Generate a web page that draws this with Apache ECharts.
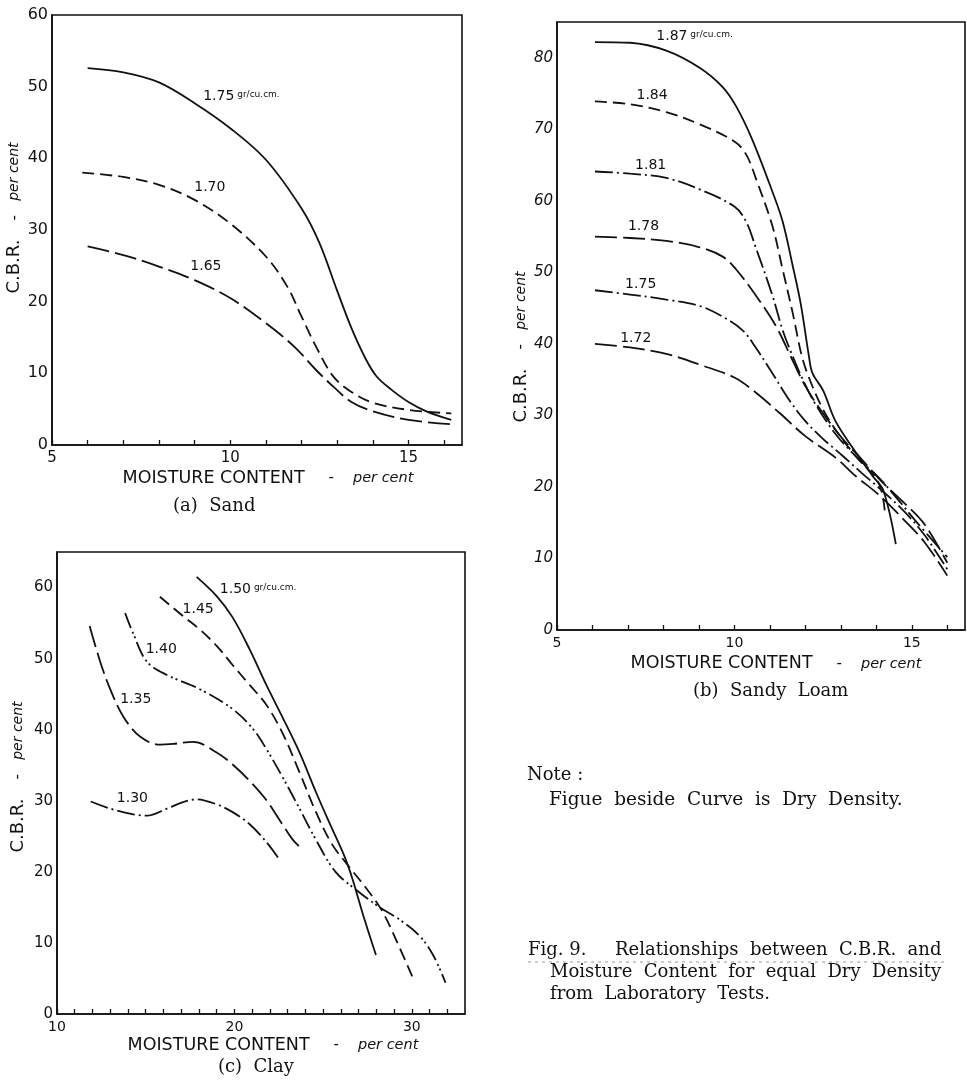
<!DOCTYPE html>
<html>
<head>
<meta charset="utf-8">
<script src="https://cdn.jsdelivr.net/npm/echarts@6/dist/echarts.min.js"></script>
<style>
html,body{margin:0;padding:0;background:#fff;}
#chart{width:967px;height:1082px;}
</style>
</head>
<body>
<div id="chart"></div>
<script>
// ---------- DATA ----------
// (a) Sand : moisture content (%) vs C.B.R. (%)
const sandX175 = [6, 7, 8, 9, 10, 11, 12, 12.5, 13, 13.4, 13.8, 14.1, 14.5, 15, 15.5, 16.2];
const sandY175 = [52.6, 52.0, 50.6, 47.7, 44.2, 39.8, 33.0, 28.2, 21.5, 16.3, 12.0, 9.6, 7.8, 6.0, 4.7, 3.5];
const sandX170 = [5.85, 7, 8, 9, 10, 11, 11.6, 12, 12.45, 12.9, 13.4, 14, 15, 16.2];
const sandY170 = [38.0, 37.4, 36.3, 34.2, 30.9, 26.3, 22.1, 17.9, 13.3, 9.5, 7.4, 5.9, 4.9, 4.4];
const sandX165 = [6, 7, 8, 9, 10, 11, 11.8, 12.4, 12.9, 13.4, 14, 15, 16.2];
const sandY165 = [27.7, 26.5, 24.9, 23.0, 20.5, 17.0, 13.7, 10.5, 8.1, 6.0, 4.7, 3.5, 2.9];

// (b) Sandy Loam
const loamX187 = [6.07, 7.06, 8.08, 9.02, 9.67, 10.05, 10.5, 11.07, 11.36, 11.64, 11.87, 12.1, 12.2, 12.5, 12.85, 13.4, 13.9, 14.2, 14.55];
const loamY187 = [82.2, 82.1, 81.0, 78.6, 75.9, 73.2, 68.6, 61.3, 57.1, 51.0, 45.6, 38.3, 35.9, 33.5, 29.2, 25.0, 21.5, 19.5, 12.0];
const loamX184 = [6.07, 7.06, 8.08, 9.02, 10.0, 10.33, 10.6, 11.07, 11.36, 11.64, 11.9, 12.1, 12.48, 12.85, 13.4, 14.07, 14.25];
const loamY184 = [73.9, 73.5, 72.4, 70.7, 68.3, 66.5, 63.2, 56.5, 50.4, 44.4, 38.3, 35.3, 31.0, 28.0, 24.4, 20.5, 16.0];
const loamX181 = [6.07, 7.06, 8.08, 9.02, 10.0, 10.33, 10.6, 11.07, 11.36, 11.64, 11.9, 12.28, 12.85, 13.4, 14.07, 14.6, 15.1, 16.0];
const loamY181 = [64.1, 63.8, 63.2, 61.6, 59.2, 57.1, 53.5, 46.8, 41.9, 38.3, 35.3, 31.6, 27.4, 24.4, 21.3, 18.3, 15.3, 10.2];
const loamX178 = [6.07, 7.06, 8.08, 9.02, 9.67, 10.05, 10.6, 11.17, 11.64, 12.0, 12.48, 13.04, 13.6, 14.16, 14.8, 15.37, 16.0];
const loamY178 = [55.0, 54.8, 54.4, 53.5, 52.2, 50.4, 46.8, 42.5, 37.7, 34.1, 30.4, 26.8, 23.8, 20.7, 17.7, 14.7, 9.4];
const loamX175 = [6.07, 7.06, 8.08, 9.02, 9.67, 10.23, 10.6, 11.07, 11.54, 12.0, 12.48, 13.04, 13.6, 14.16, 14.8, 15.37, 16.0];
const loamY175 = [47.5, 46.9, 46.2, 45.3, 43.8, 41.9, 39.5, 35.9, 32.2, 29.2, 26.8, 24.4, 21.9, 19.5, 16.5, 13.2, 8.5];
const loamX172 = [6.07, 7.06, 8.08, 9.02, 10.0, 10.6, 11.26, 12.0, 12.85, 13.4, 14.07, 14.8, 15.37, 16.0];
const loamY172 = [40.0, 39.5, 38.6, 37.1, 35.3, 33.2, 30.4, 27.1, 24.1, 21.6, 18.9, 15.3, 12.2, 7.6];

// (c) Clay
const clayX150 = [17.87, 19.0, 19.9, 20.86, 21.8, 22.7, 23.67, 24.6, 25.5, 26.2, 26.67, 27.2, 27.98];
const clayY150 = [61.5, 58.8, 55.8, 51.3, 46.3, 41.8, 36.8, 31.2, 26.1, 22.2, 18.9, 14.4, 8.3];
const clayX145 = [15.8, 17.1, 18.05, 19.0, 19.9, 20.86, 21.8, 22.7, 23.67, 24.6, 25.5, 26.5, 27.4, 28.35, 29.3, 30.04];
const clayY145 = [58.7, 56.0, 54.1, 51.8, 49.1, 46.3, 43.5, 39.6, 34.0, 28.4, 23.9, 20.6, 17.8, 14.4, 9.4, 5.2];
const clayX140 = [13.84, 14.3, 15.06, 16.2, 18.05, 19.9, 21.05, 21.8, 22.7, 23.67, 24.6, 25.7, 27.0, 28.2, 29.3, 30.4, 31.2, 31.9];
const clayY140 = [56.4, 53.5, 49.6, 47.7, 45.7, 42.9, 40.1, 37.3, 33.4, 28.9, 24.5, 20.0, 17.2, 15.0, 13.3, 11.1, 8.3, 4.4];
const clayX135 = [11.84, 12.43, 13.0, 13.75, 14.7, 15.8, 16.55, 17.68, 19.0, 19.9, 20.86, 21.8, 22.7, 23.3, 23.86];
const clayY135 = [54.6, 49.6, 45.7, 41.8, 39.0, 37.9, 38.0, 38.3, 36.8, 35.1, 32.8, 30.1, 26.7, 24.5, 23.1];
const clayX130 = [11.9, 13.0, 14.3, 15.06, 16.2, 17.1, 17.87, 19.0, 19.9, 20.86, 21.8, 22.55];
const clayY130 = [29.9, 28.9, 28.1, 27.9, 28.9, 29.8, 30.2, 29.5, 28.4, 26.7, 24.2, 21.7];

// curve labels (dry density) and their anchor in data units
const sandLabels = [['1.75', true, 9.24, 48.6], ['1.70', false, 8.99, 35.9], ['1.65', false, 8.88, 24.9]];
const loamLabels = [['1.87', true, 7.8, 83.0], ['1.84', false, 7.24, 74.8], ['1.81', false, 7.2, 65.0],
                    ['1.78', false, 7.0, 56.4], ['1.75', false, 6.92, 48.3], ['1.72', false, 6.78, 40.8]];
const clayLabels = [['1.50', true, 19.18, 59.7], ['1.45', false, 17.08, 57.0], ['1.40', false, 15.0, 51.3],
                    ['1.35', false, 13.56, 44.3], ['1.30', false, 13.37, 30.3]];

// ---------- STYLE ----------
const SANS = "'DejaVu Sans', sans-serif";
const SERIF = "'DejaVu Serif', serif";
const INK = '#111';
const SOLID = 'solid';
const SHORT_DASH = [12, 6];
const LONG_DASH = [22, 6];
const DASH_DOT = [18, 4, 2, 4];
const DASH_DOT_DOT = [16, 4, 2, 3, 2, 4];

function zip(xs, ys) { return xs.map((x, i) => [x, ys[i]]); }

function curve(idx, xs, ys, dash, lab) {
  const s = {
    type: 'line', xAxisIndex: idx, yAxisIndex: idx,
    data: zip(xs, ys), showSymbol: false, smooth: 0.35, silent: true,
    lineStyle: { color: INK, width: 1.8, type: dash }
  };
  if (lab) {
    s.markPoint = {
      symbol: 'circle', symbolSize: 0, silent: true,
      data: [{ coord: [lab[2], lab[3]] }],
      label: {
        show: true, position: 'right', distance: 0,
        formatter: lab[1] ? '{n|' + lab[0] + '}{u| gr/cu.cm.}' : '{n|' + lab[0] + '}',
        rich: {
          n: { fontFamily: SANS, fontSize: 14, color: INK },
          u: { fontFamily: SANS, fontSize: 9, color: INK, padding: [0, 0, 4, 0] }
        }
      }
    };
  }
  return s;
}

function xAxis(idx, min, max, every, fs, gap, padL) {
  return {
    gridIndex: idx, type: 'value', min: min, max: max, interval: 1,
    axisLine: { lineStyle: { color: INK, width: 1.6 } },
    axisTick: { inside: true, length: 5, lineStyle: { color: INK, width: 1.3 } },
    splitLine: { show: false },
    axisLabel: { formatter: v => (v % every === 0 ? String(v) : ''), showMaxLabel: false,
                 color: INK, fontFamily: SANS, fontSize: fs, margin: 6 },
    name: '{a|MOISTURE CONTENT}{b|     -    }{c|per cent}',
    nameLocation: 'middle', nameGap: gap,
    nameTextStyle: { padding: [0, 0, 0, padL],
      rich: { a: { fontFamily: SANS, fontSize: 17.5, color: INK },
              b: { fontFamily: SANS, fontSize: 15, color: INK },
              c: { fontFamily: SANS, fontSize: 14.5, color: INK, fontStyle: 'italic' } } }
  };
}

function yAxis(idx, max, fs, italic, gap, pad) {
  return {
    gridIndex: idx, type: 'value', min: 0, max: max, interval: 10,
    axisLine: { lineStyle: { color: INK, width: 1.6 } },
    axisTick: { show: false },
    splitLine: { show: false },
    axisLabel: { formatter: v => (v % 10 === 0 ? String(v) : ''), showMaxLabel: max % 10 === 0,
                 color: INK, fontFamily: SANS, fontSize: fs, fontStyle: italic ? 'italic' : 'normal', margin: 4 },
    name: '{a|C.B.R.}{b|    -   }{c|per cent}',
    nameLocation: 'middle', nameGap: gap, nameRotate: 90,
    nameTextStyle: { padding: pad,
      rich: { a: { fontFamily: SANS, fontSize: 18, color: INK },
              b: { fontFamily: SANS, fontSize: 15, color: INK },
              c: { fontFamily: SANS, fontSize: 14, color: INK, fontStyle: 'italic' } } }
  };
}

const gridStyle = { show: true, borderColor: INK, borderWidth: 1.6, backgroundColor: 'transparent', containLabel: false };

const option = {
  backgroundColor: '#fff',
  animation: false,
  grid: [
    Object.assign({ left: 52, top: 15, width: 410, height: 430 }, gridStyle),
    Object.assign({ left: 557, top: 22, width: 408, height: 608 }, gridStyle),
    Object.assign({ left: 57, top: 552, width: 408, height: 462 }, gridStyle)
  ],
  xAxis: [
    xAxis(0, 5, 16.5, 5, 15, 24, 22),
    xAxis(1, 5, 16.5, 5, 14, 22, 30),
    xAxis(2, 10, 33, 10, 14, 22, 24)
  ],
  yAxis: [
    yAxis(0, 60, 16, false, 26, [0, 0, 0, 24]),
    yAxis(1, 85, 15, true, 24, [0, 42, 0, 0]),
    yAxis(2, 65, 15, false, 30, [0, 0, 0, 12])
  ],
  series: [
    curve(0, sandX175, sandY175, SOLID, sandLabels[0]),
    curve(0, sandX170, sandY170, SHORT_DASH, sandLabels[1]),
    curve(0, sandX165, sandY165, LONG_DASH, sandLabels[2]),

    curve(1, loamX187, loamY187, SOLID, loamLabels[0]),
    curve(1, loamX184, loamY184, SHORT_DASH, loamLabels[1]),
    curve(1, loamX181, loamY181, DASH_DOT, loamLabels[2]),
    curve(1, loamX178, loamY178, LONG_DASH, loamLabels[3]),
    curve(1, loamX175, loamY175, DASH_DOT, loamLabels[4]),
    curve(1, loamX172, loamY172, LONG_DASH, loamLabels[5]),

    curve(2, clayX150, clayY150, SOLID, clayLabels[0]),
    curve(2, clayX145, clayY145, SHORT_DASH, clayLabels[1]),
    curve(2, clayX140, clayY140, DASH_DOT_DOT, clayLabels[2]),
    curve(2, clayX135, clayY135, LONG_DASH, clayLabels[3]),
    curve(2, clayX130, clayY130, DASH_DOT, clayLabels[4])
  ],
  graphic: [
    { type: 'text', left: 173, top: 497, style: { text: '(a)  Sand', font: '18px ' + SERIF, fill: INK } },
    { type: 'text', left: 693, top: 682, style: { text: '(b)  Sandy  Loam', font: '18px ' + SERIF, fill: INK } },
    { type: 'text', left: 218, top: 1058, style: { text: '(c)  Clay', font: '18px ' + SERIF, fill: INK } },
    { type: 'text', left: 527, top: 766, style: { text: 'Note :', font: '18px ' + SERIF, fill: INK } },
    { type: 'text', left: 549, top: 791, style: { text: 'Figue  beside  Curve  is  Dry  Density.', font: '18.5px ' + SERIF, fill: INK } },
    { type: 'line', shape: { x1: 528, y1: 962, x2: 945, y2: 962 }, style: { stroke: '#999', lineWidth: 1, lineDash: [3, 4] } },
    { type: 'text', left: 528, top: 941, style: { text: 'Fig. 9.     Relationships  between  C.B.R.  and', font: '18px ' + SERIF, fill: INK } },
    { type: 'text', left: 550, top: 963, style: { text: 'Moisture  Content  for  equal  Dry  Density', font: '18px ' + SERIF, fill: INK } },
    { type: 'text', left: 550, top: 985, style: { text: 'from  Laboratory  Tests.', font: '18px ' + SERIF, fill: INK } }
  ]
};

const chart = echarts.init(document.getElementById('chart'), null, { renderer: 'canvas' });
chart.setOption(option);
</script>
</body>
</html>
